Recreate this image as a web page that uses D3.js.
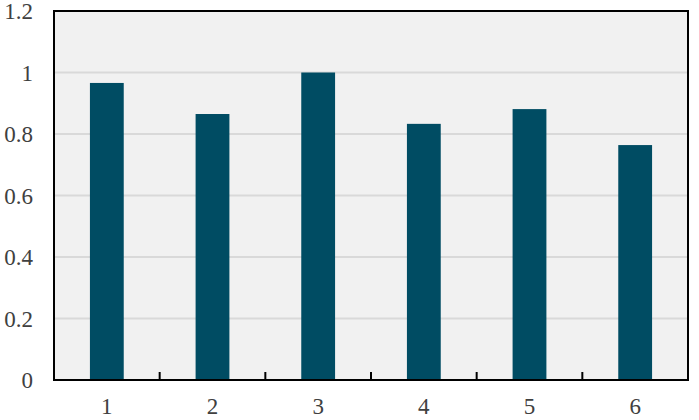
<!DOCTYPE html>
<html><head><meta charset="utf-8">
<script src="https://cdn.jsdelivr.net/npm/d3@7"></script>
<style>body{margin:0;background:#fff}svg{display:block}
text.lbl{font-family:"Liberation Serif","Times New Roman",serif;font-size:23px;fill:#404040}</style>
</head><body><svg id="c" width="699" height="420"></svg>
<script>
const categories = ["1","2","3","4","5","6"];
const values = [0.966, 0.865, 1.0, 0.833, 0.881, 0.764];
const yTicks = [0, 0.2, 0.4, 0.6, 0.8, 1, 1.2];

const svg = d3.select("#c");
const m = {l:54, r:11, t:11, b:40};
const W = 699, H = 420;
const x = d3.scaleBand().domain(categories).range([m.l, W - m.r]).paddingInner(0).paddingOuter(0);
const y = d3.scaleLinear().domain([0, 1.2]).range([H - m.b, m.t]);

svg.append("rect").attr("x", m.l).attr("y", m.t).attr("width", W - m.r - m.l).attr("height", H - m.b - m.t).attr("fill", "#f1f1f1");

svg.append("g").selectAll("line").data(yTicks.filter(d => d > 0 && d < 1.2)).join("line")
  .attr("x1", m.l).attr("x2", W - m.r).attr("y1", d => y(d)).attr("y2", d => y(d))
  .attr("stroke", "#d9d9d9").attr("stroke-width", 2);

svg.append("g").selectAll("rect").data(values).join("rect")
  .attr("x", (d, i) => x(categories[i]) + x.bandwidth() * 0.34)
  .attr("width", x.bandwidth() * 0.32)
  .attr("y", d => y(d)).attr("height", d => y(0) - y(d))
  .attr("fill", "#004c63");

svg.append("rect").attr("x", m.l).attr("y", m.t).attr("width", W - m.r - m.l).attr("height", H - m.b - m.t)
  .attr("fill", "none").attr("stroke", "#000").attr("stroke-width", 2);

const bounds = categories.slice(1).map(c => x(c));
svg.append("g").selectAll("line").data(bounds).join("line")
  .attr("x1", d => d).attr("x2", d => d).attr("y1", y(0)).attr("y2", y(0) - 8)
  .attr("stroke", "#000").attr("stroke-width", 2);

svg.append("g").selectAll("text").data(yTicks).join("text").attr("class", "lbl")
  .attr("x", 33).attr("y", d => y(d) + 8).attr("text-anchor", "end")
  .text(d => d3.format("")(d));

svg.append("g").selectAll("text").data(categories).join("text").attr("class", "lbl")
  .attr("x", d => x(d) + x.bandwidth() / 2).attr("y", 414).attr("text-anchor", "middle")
  .text(d => d);
</script></body></html>
